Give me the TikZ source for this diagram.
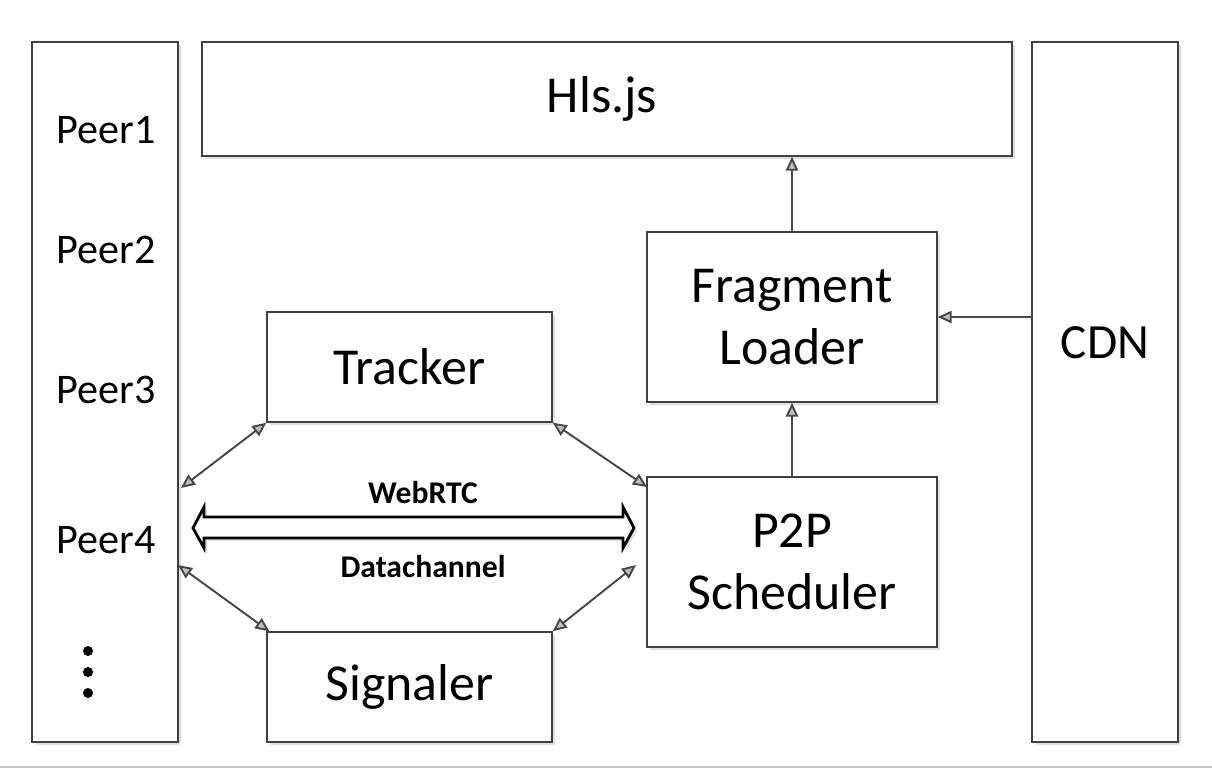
\documentclass[tikz,border=0pt]{standalone}
\usepackage{fontspec}
\setmainfont{Carlito}
\usetikzlibrary{arrows.meta,shadows}

\begin{document}
\begin{tikzpicture}[x=0.02cm, y=-0.02cm,
    box/.style={draw=black!75, line width=0.8pt, fill=white, align=center,
        drop shadow={shadow xshift=0.06cm, shadow yshift=-0.06cm, fill=black!12, opacity=1}},
    big/.style={font=\fontsize{29.5}{35}\selectfont},
    peer/.style={font=\fontsize{24}{28}\selectfont},
    tag/.style={font=\fontsize{18}{21}\selectfont\bfseries},
    lnk/.style={line width=1.1pt, black!72, -{Triangle[length=8pt, width=7pt, fill=gray!50]}},
    both/.style={lnk, {Triangle[length=8pt, width=7pt, fill=gray!50]}-{Triangle[length=8pt, width=7pt, fill=gray!50]}}]

    \useasboundingbox (0,0) rectangle (1212,770);

    % === Colonne laterali ===
    \node[box, minimum width=2.92cm, minimum height=14cm] (peers) at (105,392) {};
    \node[box, minimum width=2.92cm, minimum height=14cm] (cdn) at (1105,392) {};
    \node[font=\fontsize{28}{34}\selectfont] (cdnlbl) at (1105,343) {CDN};

    \node[peer] (p1) at (106,130) {Peer1};
    \node[peer] (p2) at (106,250) {Peer2};
    \node[peer] (p3) at (106,390) {Peer3};
    \node[peer] (p4) at (106,540) {Peer4};
    \fill (88,651) circle (0.1cm);
    \fill (88,672) circle (0.1cm);
    \fill (88,693) circle (0.1cm);

    % === Blocchi centrali ===
    \node[box, minimum width=16.2cm, minimum height=2.28cm] (hls) at (607,99) {};
    \node[big] (hlslbl) at (602,99) {Hls.js};
    \node[box, big, minimum width=5.8cm, minimum height=3.4cm] (frag) at (792,317) {Fragment\\Loader};
    \node[box, big, minimum width=5.8cm, minimum height=3.4cm] (sched) at (792,562) {P2P\\Scheduler};
    \node[box, big, minimum width=5.7cm, minimum height=2.2cm] (track) at (409.5,367) {Tracker};
    \node[box, big, minimum width=5.7cm, minimum height=2.2cm] (sig) at (409.5,687) {Signaler};

    % Frecce verticali
    \draw[lnk] (frag.north) -- (frag.north |- hls.south);
    \draw[lnk] (sched.north) -- (frag.south);
    \draw[lnk] (cdn.west |- frag.east) -- (frag.east);

    % Frecce doppie
    \coordinate (pt) at (181,488);
    \coordinate (pb) at (178,565);
    \coordinate (st) at (647,487);
    \coordinate (sb) at (636,565);
    \draw[both] (pt) -- (track.south west);
    \draw[both] (track.south east) -- (st);
    \draw[both] (pb) -- ([xshift=0.06cm]sig.north west);
    \draw[both] (sig.north east) -- (sb);

    % WebRTC Datachannel
    \filldraw[line width=1.6pt, fill=white,
        drop shadow={shadow xshift=0.06cm, shadow yshift=-0.06cm, fill=black!12, opacity=1}]
        (193,528) -- (204,507) -- (204,517) -- (623,517) -- (623,507) -- (634,528)
        -- (623,548) -- (623,538) -- (204,538) -- (204,548) -- cycle;
    \node[tag] (web) at (423,493) {WebRTC};
    \node[tag] (dc) at (423,567) {Datachannel};

    \draw[gray!45, line width=1.2pt] (0,767) -- (1212,767);

\end{tikzpicture}
\end{document}
